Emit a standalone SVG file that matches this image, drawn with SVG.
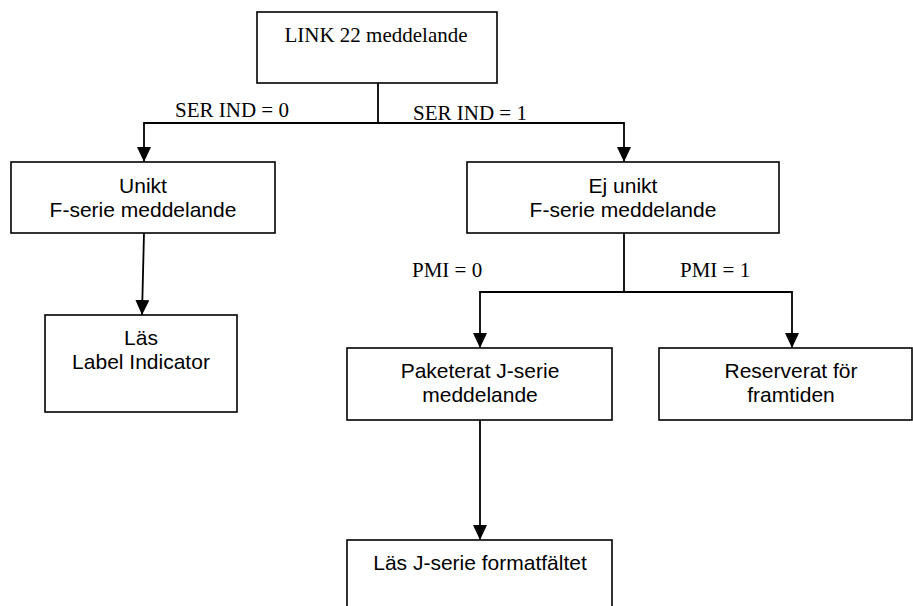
<svg xmlns="http://www.w3.org/2000/svg" width="913" height="606" viewBox="0 0 913 606">
<style>
.box{fill:#fff;stroke:#000;stroke-width:1.6}
.ln{fill:none;stroke:#000;stroke-width:1.8}
.t{font-family:"Liberation Serif","Times New Roman",serif;font-size:21px;fill:#000}
.s{font-family:"Liberation Sans",Arial,sans-serif;font-size:21px;fill:#000;text-anchor:middle}
</style>
<defs>
<marker id="ah" viewBox="0 0 15 14" refX="15" refY="7" markerWidth="15" markerHeight="14" markerUnits="userSpaceOnUse" orient="auto">
<path d="M0,0 L15,7 L0,14 Z" fill="#000"/>
</marker>
</defs>
<rect width="913" height="606" fill="#fff"/>
<g id="connectors">
<polyline class="ln" points="378,83 378,123"/>
<polyline class="ln" points="378,123 144,123 144,162" marker-end="url(#ah)"/>
<polyline class="ln" points="378,123 624,123 624,162" marker-end="url(#ah)"/>
<line class="ln" x1="144" y1="233" x2="142" y2="315" marker-end="url(#ah)"/>
<polyline class="ln" points="624,233 624,292"/>
<polyline class="ln" points="624,292 480,292 480,348" marker-end="url(#ah)"/>
<polyline class="ln" points="624,292 792,292 792,348" marker-end="url(#ah)"/>
<line class="ln" x1="480" y1="420" x2="480" y2="540" marker-end="url(#ah)"/>
<text class="t" x="175" y="117">SER IND = 0</text>
<text class="t" x="413" y="120">SER IND = 1</text>
<text class="t" x="412" y="277">PMI = 0</text>
<text class="t" x="680" y="277">PMI = 1</text>
</g>
<g id="link22">
<rect class="box" x="257" y="12" width="240" height="71"/>
<text class="t" x="376" y="42" text-anchor="middle" font-size="21.5">LINK 22 meddelande</text>
</g>
<g id="unikt">
<rect class="box" x="11" y="162" width="264" height="71"/>
<text class="s" x="143" y="193">Unikt</text>
<text class="s" x="143" y="217">F-serie meddelande</text>
</g>
<g id="ejunikt">
<rect class="box" x="467" y="162" width="312" height="71"/>
<text class="s" x="623" y="193">Ej unikt</text>
<text class="s" x="623" y="217">F-serie meddelande</text>
</g>
<g id="las">
<rect class="box" x="45" y="315" width="192" height="97"/>
<text class="s" x="141" y="345">Läs</text>
<text class="s" x="141" y="369">Label Indicator</text>
</g>
<g id="paketerat">
<rect class="box" x="347" y="348" width="265" height="72"/>
<text class="s" x="480" y="378">Paketerat J-serie</text>
<text class="s" x="480" y="402">meddelande</text>
</g>
<g id="reserverat">
<rect class="box" x="659" y="348" width="253" height="72"/>
<text class="s" x="791" y="378">Reserverat för</text>
<text class="s" x="791" y="402">framtiden</text>
</g>
<g id="lasj">
<rect class="box" x="347" y="540" width="265" height="80"/>
<text class="s" x="480" y="570">Läs J-serie formatfältet</text>
</g>
</svg>
